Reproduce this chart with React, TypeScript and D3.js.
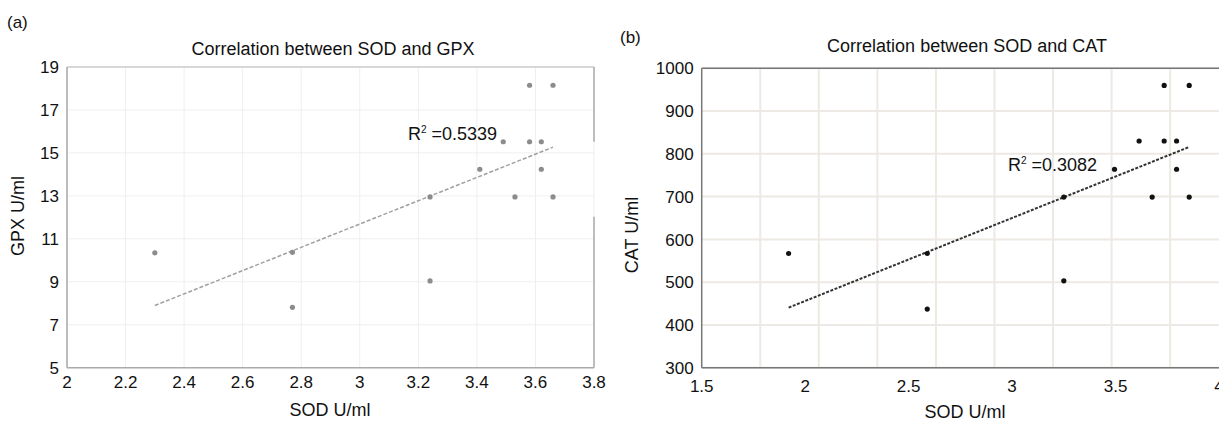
import * as d3 from 'd3';
import { useEffect, useRef } from 'react';

// panel (a): SOD vs GPX
const sodA = [2.30, 2.77, 2.77, 3.24, 3.24, 3.41, 3.49, 3.53, 3.58, 3.58, 3.62, 3.62, 3.66, 3.66];
const gpx = [10.35, 10.37, 7.81, 12.95, 9.04, 14.24, 15.52, 12.95, 18.15, 15.52, 15.52, 14.24, 18.15, 12.95];
const trendA = { slope: 5.42, intercept: -4.57, r2: '0.5339' };
const xTicksA = [2, 2.2, 2.4, 2.6, 2.8, 3, 3.2, 3.4, 3.6, 3.8];
const yTicksA = [5, 7, 9, 11, 13, 15, 17, 19];

// panel (b): SOD vs CAT
const sodB = [1.92, 2.59, 2.59, 3.25, 3.25, 3.495, 3.614, 3.677, 3.735, 3.735, 3.795, 3.795, 3.856, 3.856];
const cat = [567, 567, 437, 699, 503, 764, 830, 699, 960, 830, 830, 764, 960, 699];
const trendB = { slope: 194, intercept: 68, r2: '0.3082' };
const xTicksB = [1.5, 2, 2.5, 3, 3.5, 4];
const yTicksB = [300, 400, 500, 600, 700, 800, 900, 1000];
const gridXB = [1.783, 2.066, 2.349, 2.632, 2.915, 3.198, 3.481, 3.764];

const FONT = '"Liberation Sans", Arial, Helvetica, sans-serif';

export default function App() {
  const ref = useRef<SVGSVGElement>(null);

  useEffect(() => {
    const svg = d3.select(ref.current);
    svg.selectAll('*').remove();

    function panel(opts: any) {
      const { xs, ys, x, y, xTicks, yTicks, gridX, trend, title, titleX, titleY,
        tag, tagX, tagY, yLabel, yLabelX, yLabelY, xLabelX, xLabelY, r2X, r2Y,
        gridColor, gridWidth, axisColor, topColor, pointColor, pointR, trendColor,
        trendWidth, dash, xTickY, rightGap } = opts;
      const g = svg.append('g');
      const [x0, x1] = x.range();
      const [y0, y1] = y.range();

      g.selectAll('.gx').data(gridX).enter().append('line')
        .attr('x1', (d: number) => x(d)).attr('x2', (d: number) => x(d))
        .attr('y1', y0).attr('y2', y1)
        .attr('stroke', gridColor).attr('stroke-width', gridWidth);
      g.selectAll('.gy').data(yTicks).enter().append('line')
        .attr('x1', x0).attr('x2', x1)
        .attr('y1', (d: number) => y(d)).attr('y2', (d: number) => y(d))
        .attr('stroke', gridColor).attr('stroke-width', gridWidth);

      // frame
      g.append('line').attr('x1', x0).attr('x2', x1).attr('y1', y1).attr('y2', y1)
        .attr('stroke', topColor).attr('stroke-width', 1.5);
      g.append('line').attr('x1', x0).attr('x2', x1).attr('y1', y0).attr('y2', y0)
        .attr('stroke', axisColor).attr('stroke-width', 1.5);
      g.append('line').attr('x1', x0).attr('x2', x0).attr('y1', y0).attr('y2', y1)
        .attr('stroke', axisColor).attr('stroke-width', 1.5);
      if (rightGap) {
        g.append('line').attr('x1', x1).attr('x2', x1).attr('y1', y1).attr('y2', y(rightGap[1]))
          .attr('stroke', axisColor).attr('stroke-width', 1.5);
        g.append('line').attr('x1', x1).attr('x2', x1).attr('y1', y(rightGap[0])).attr('y2', y0)
          .attr('stroke', axisColor).attr('stroke-width', 1.5);
      }

      // trend line
      const tx = d3.extent(xs) as [number, number];
      g.append('line')
        .attr('x1', x(tx[0])).attr('y1', y(trend.slope * tx[0] + trend.intercept))
        .attr('x2', x(tx[1])).attr('y2', y(trend.slope * tx[1] + trend.intercept))
        .attr('stroke', trendColor).attr('stroke-width', trendWidth)
        .attr('stroke-dasharray', dash);

      g.selectAll('circle').data(xs).enter().append('circle')
        .attr('cx', (d: number) => x(d)).attr('cy', (_: number, i: number) => y(ys[i]))
        .attr('r', pointR).attr('fill', pointColor);

      // tick labels
      g.selectAll('.tx').data(xTicks).enter().append('text')
        .attr('x', (d: number) => x(d)).attr('y', xTickY)
        .attr('text-anchor', 'middle').attr('font-family', FONT).attr('font-size', 17)
        .attr('fill', '#111').text((d: number) => String(d));
      g.selectAll('.ty').data(yTicks).enter().append('text')
        .attr('x', x0 - 8).attr('y', (d: number) => y(d)).attr('dy', '0.36em')
        .attr('text-anchor', 'end').attr('font-family', FONT).attr('font-size', 17)
        .attr('fill', '#111').text((d: number) => String(d));

      const text = (tx: number, ty: number, s: string, size: number, anchor = 'middle') =>
        g.append('text').attr('x', tx).attr('y', ty).attr('text-anchor', anchor)
          .attr('font-family', FONT).attr('font-size', size).attr('fill', '#111').text(s);

      text(titleX, titleY, title, 18);
      text(tagX, tagY, tag, 17, 'start');
      text(xLabelX, xLabelY, 'SOD U/ml', 18);
      g.append('text').attr('transform', `translate(${yLabelX},${yLabelY}) rotate(-90)`)
        .attr('text-anchor', 'middle').attr('font-family', FONT).attr('font-size', 18)
        .attr('fill', '#111').text(yLabel);

      const r2 = g.append('text').attr('x', r2X).attr('y', r2Y)
        .attr('font-family', FONT).attr('font-size', 18).attr('fill', '#111');
      r2.append('tspan').text('R');
      r2.append('tspan').attr('font-size', 10).attr('dy', -7).text('2');
      r2.append('tspan').attr('dy', 7).text(' =' + trend.r2);
    }

    panel({
      xs: sodA, ys: gpx,
      x: d3.scaleLinear().domain([2, 3.8]).range([67, 594]),
      y: d3.scaleLinear().domain([5, 19]).range([367.7, 67]),
      xTicks: xTicksA, yTicks: yTicksA, gridX: xTicksA, trend: trendA,
      title: 'Correlation between SOD and GPX', titleX: 333, titleY: 55,
      tag: '(a)', tagX: 7, tagY: 28,
      yLabel: 'GPX U/ml', yLabelX: 24, yLabelY: 216,
      xLabelX: 330, xLabelY: 416, r2X: 408, r2Y: 140,
      gridColor: '#efefef', gridWidth: 1, axisColor: '#aaaaaa', topColor: '#cccccc',
      pointColor: '#8c8c8c', pointR: 2.6, trendColor: '#a0a0a0', trendWidth: 1.5,
      dash: '4,2', xTickY: 388, rightGap: [12.03, 15.52],
    });

    panel({
      xs: sodB, ys: cat,
      x: d3.scaleLinear().domain([1.5, 4]).range([701.7, 1219]),
      y: d3.scaleLinear().domain([300, 1000]).range([367.7, 68.3]),
      xTicks: xTicksB, yTicks: yTicksB, gridX: gridXB, trend: trendB,
      title: 'Correlation between SOD and CAT', titleX: 967, titleY: 52,
      tag: '(b)', tagX: 620, tagY: 43,
      yLabel: 'CAT U/ml', yLabelX: 638, yLabelY: 235,
      xLabelX: 965, xLabelY: 418, r2X: 1008, r2Y: 171,
      gridColor: '#ede9e4', gridWidth: 2, axisColor: '#777777', topColor: '#777777',
      pointColor: '#111111', pointR: 2.6, trendColor: '#333333', trendWidth: 2,
      dash: '3,1.5', xTickY: 392, rightGap: null,
    });
  }, []);

  return (
    <svg ref={ref} width={1219} height={421}
      style={{ position: 'absolute', left: 0, top: 0, background: '#fff' }} />
  );
}
